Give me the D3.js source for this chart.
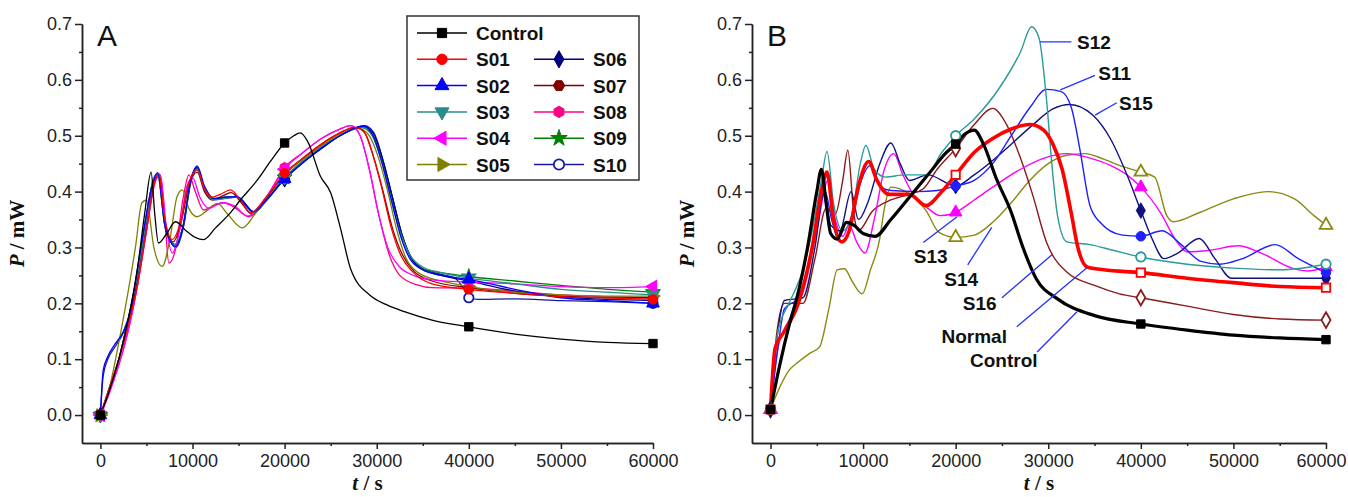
<!DOCTYPE html>
<html>
<head>
<meta charset="utf-8">
<script src="https://cdn.jsdelivr.net/npm/d3@7"></script>
<style>
	body { margin: 0; background: #fff; }
	svg { display: block; }
	.axis text { font-family: "Liberation Sans", Arial, sans-serif; font-size: 18px; fill: #222; }
	.axis path, .axis line { stroke: #222; stroke-width: 1.5; }
	.title { font-family: "Liberation Serif", "Times New Roman", serif; font-size: 21px; font-weight: bold; fill: #111; }
	.panel_label { font-family: "Liberation Sans", Arial, sans-serif; font-size: 30px; fill: #111; }
	.leg_text, .note { font-family: "Liberation Sans", Arial, sans-serif; font-size: 19px; font-weight: bold; fill: #111; }
</style>
</head>
<body>
<div id="chart"></div>
<script>

// ticks
var t_ticks= [0, 10000, 20000, 30000, 40000, 50000, 60000];
var t_minor= [5000, 15000, 25000, 35000, 45000, 55000];
var p_ticks= [0.0, 0.1, 0.2, 0.3, 0.4, 0.5, 0.6, 0.7];
var p_minor= [0.05, 0.15, 0.25, 0.35, 0.45, 0.55, 0.65];
var marker_times= [0, 20000, 40000, 60000];

// panel A  [t (s), P (mW)]
var control_a= [[0,0],[1000,0.045],[2000,0.1],[3000,0.17],[4000,0.26],[4800,0.36],[5500,0.435],[5900,0.36],[6300,0.308],[7200,0.325],[8150,0.346],[9300,0.33],[10300,0.318],[11200,0.314],[12500,0.335],[14000,0.36],[15200,0.385],[17000,0.42],[18500,0.455],[20000,0.487],[21000,0.5],[21700,0.505],[22500,0.49],[23900,0.427],[25000,0.398],[26100,0.332],[27200,0.26],[29300,0.214],[31000,0.198],[33000,0.185],[36000,0.17],[40000,0.158],[45000,0.145],[50000,0.136],[55000,0.13],[60000,0.128]];
var s01_a= [[0,0],[1000,0.05],[2000,0.1],[3000,0.16],[4000,0.23],[5000,0.33],[5800,0.41],[6340,0.433],[6900,0.36],[7790,0.314],[8600,0.34],[9500,0.41],[10500,0.439],[11300,0.405],[12140,0.39],[13000,0.395],[14130,0.403],[15200,0.385],[16300,0.362],[18000,0.39],[20000,0.433],[22000,0.46],[24000,0.485],[26000,0.505],[27500,0.515],[28500,0.51],[29500,0.47],[30500,0.41],[31500,0.34],[32500,0.29],[34000,0.255],[36000,0.235],[40000,0.225],[45000,0.218],[50000,0.212],[55000,0.21],[60000,0.207]];
var s02_a= [[0,0],[300,0.08],[800,0.105],[1500,0.125],[2500,0.15],[3300,0.19],[4000,0.26],[4800,0.34],[5600,0.41],[6200,0.434],[7000,0.34],[8150,0.302],[9000,0.34],[9800,0.42],[10500,0.446],[11300,0.41],[12300,0.388],[13500,0.39],[14860,0.391],[15800,0.375],[16670,0.364],[18000,0.385],[20000,0.423],[22000,0.452],[24000,0.478],[26000,0.5],[28600,0.517],[29600,0.5],[30600,0.45],[31600,0.385],[32600,0.32],[33600,0.28],[35000,0.26],[37000,0.25],[40000,0.243],[45000,0.225],[50000,0.21],[55000,0.205],[60000,0.2]];
var s03_a= [[0,0],[1000,0.05],[2000,0.1],[3000,0.17],[4000,0.25],[5000,0.35],[5700,0.42],[6200,0.43],[7000,0.34],[8000,0.305],[9000,0.34],[9800,0.42],[10500,0.44],[11300,0.405],[12300,0.385],[13500,0.388],[14800,0.39],[16600,0.362],[18000,0.385],[20000,0.425],[22000,0.455],[24000,0.48],[26000,0.5],[28300,0.515],[29500,0.5],[30500,0.455],[31500,0.39],[32500,0.33],[33500,0.29],[35000,0.265],[37000,0.255],[40000,0.245],[45000,0.235],[50000,0.225],[55000,0.22],[60000,0.215]];
var s04_a= [[0,0],[1000,0.04],[2000,0.09],[3000,0.15],[4000,0.23],[5000,0.33],[5900,0.42],[6500,0.43],[7200,0.33],[7800,0.29],[8600,0.33],[9400,0.41],[10000,0.425],[10800,0.39],[11800,0.37],[13200,0.38],[14500,0.375],[16000,0.356],[18000,0.39],[20000,0.44],[22000,0.47],[24000,0.495],[26000,0.512],[27200,0.518],[28200,0.5],[29200,0.44],[30200,0.36],[31200,0.3],[32500,0.265],[34000,0.25],[36000,0.242],[40000,0.238],[45000,0.235],[50000,0.23],[55000,0.228],[60000,0.23]];
var s05_a= [[0,0],[1000,0.05],[2000,0.13],[3000,0.22],[3800,0.3],[4500,0.38],[5000,0.385],[5800,0.3],[6700,0.266],[7600,0.32],[8300,0.39],[8880,0.403],[9600,0.37],[10500,0.355],[11500,0.365],[12700,0.379],[13800,0.36],[15400,0.335],[16800,0.36],[18500,0.395],[20000,0.43],[22000,0.458],[24000,0.482],[26000,0.503],[28000,0.513],[29200,0.5],[30200,0.46],[31200,0.4],[32200,0.33],[33200,0.28],[34500,0.255],[37000,0.24],[40000,0.23],[45000,0.22],[50000,0.215],[55000,0.213],[60000,0.213]];
var s06_a= [[0,0],[1000,0.05],[2000,0.1],[3000,0.17],[4000,0.25],[5000,0.35],[5800,0.42],[6300,0.43],[7100,0.33],[8100,0.305],[9000,0.34],[9800,0.42],[10500,0.443],[11300,0.405],[12300,0.386],[13800,0.39],[14900,0.39],[16700,0.363],[18000,0.385],[20000,0.422],[22000,0.452],[24000,0.477],[26000,0.5],[28500,0.517],[29600,0.505],[30700,0.455],[31700,0.39],[32700,0.325],[33700,0.283],[35000,0.26],[37000,0.25],[40000,0.24],[45000,0.222],[50000,0.212],[55000,0.207],[60000,0.205]];
var s07_a= [[0,0],[1000,0.045],[2000,0.1],[3000,0.16],[4000,0.24],[5000,0.34],[5900,0.42],[6400,0.43],[7000,0.35],[7900,0.31],[8700,0.34],[9600,0.41],[10500,0.435],[11300,0.4],[12200,0.385],[13200,0.392],[14200,0.398],[15300,0.38],[16400,0.36],[18000,0.388],[20000,0.43],[22000,0.46],[24000,0.485],[26000,0.505],[27700,0.515],[28700,0.505],[29700,0.46],[30700,0.4],[31700,0.335],[32700,0.29],[34000,0.258],[36000,0.24],[40000,0.228],[45000,0.218],[50000,0.213],[55000,0.21],[60000,0.21]];
var s08_a= [[0,0],[1000,0.045],[2000,0.09],[3000,0.15],[4000,0.23],[5000,0.33],[6000,0.42],[6500,0.43],[7000,0.35],[7430,0.272],[8200,0.3],[9000,0.39],[9600,0.43],[10300,0.4],[11200,0.367],[12300,0.375],[13400,0.38],[14700,0.37],[16100,0.355],[18000,0.39],[20000,0.443],[22000,0.47],[24000,0.495],[26000,0.512],[27200,0.518],[28200,0.5],[29200,0.44],[30200,0.36],[31300,0.29],[32500,0.25],[34400,0.233],[36000,0.228],[40000,0.227],[45000,0.222],[50000,0.215],[55000,0.212],[60000,0.21]];
var s09_a= [[0,0],[1000,0.05],[2000,0.1],[3000,0.17],[4000,0.25],[5000,0.35],[5700,0.42],[6200,0.432],[7000,0.34],[8100,0.305],[9000,0.34],[9800,0.42],[10500,0.443],[11300,0.405],[12300,0.387],[13700,0.39],[14900,0.39],[16600,0.363],[18000,0.385],[20000,0.425],[22000,0.455],[24000,0.48],[26000,0.5],[28300,0.515],[29500,0.503],[30600,0.455],[31700,0.39],[32800,0.32],[33800,0.28],[35000,0.262],[37000,0.255],[40000,0.248],[45000,0.24],[50000,0.232],[55000,0.225],[60000,0.22]];
var s10_a= [[0,0],[300,0.07],[800,0.1],[1500,0.12],[2500,0.148],[3300,0.185],[4000,0.255],[4800,0.34],[5600,0.41],[6300,0.43],[7100,0.335],[8200,0.3],[9000,0.335],[9800,0.415],[10500,0.44],[11300,0.405],[12300,0.386],[13600,0.388],[14900,0.39],[16700,0.363],[18000,0.383],[20000,0.423],[22000,0.452],[24000,0.477],[26000,0.5],[28700,0.518],[29700,0.505],[30700,0.455],[31700,0.39],[32700,0.325],[33700,0.283],[35000,0.262],[37000,0.252],[38500,0.245],[39500,0.225],[40000,0.21],[41000,0.207],[45000,0.208],[50000,0.205],[55000,0.203],[60000,0.2]];

// panel B
var control_b= [[0,0.01],[1000,0.09],[2000,0.16],[3000,0.22],[4000,0.3],[5000,0.4],[5500,0.44],[6000,0.38],[6500,0.325],[7200,0.315],[8200,0.345],[9000,0.34],[10000,0.325],[11300,0.32],[13000,0.35],[15000,0.39],[17000,0.43],[19000,0.47],[20000,0.485],[21000,0.503],[22000,0.51],[23000,0.485],[24400,0.423],[26000,0.363],[27200,0.303],[28700,0.244],[31000,0.208],[35000,0.178],[40000,0.163],[45000,0.152],[50000,0.143],[55000,0.138],[60000,0.135]];
var normal_b= [[0,0.01],[500,0.12],[1500,0.15],[3000,0.2],[4500,0.3],[5500,0.4],[6100,0.435],[6800,0.35],[7700,0.31],[8500,0.33],[9500,0.41],[10600,0.454],[11500,0.42],[12800,0.395],[15000,0.395],[16800,0.375],[18500,0.4],[20000,0.43],[22000,0.47],[24000,0.495],[26000,0.512],[28000,0.52],[29500,0.51],[30500,0.485],[31500,0.44],[32500,0.36],[33200,0.3],[34200,0.265],[36000,0.26],[40000,0.255],[45000,0.245],[50000,0.237],[55000,0.23],[60000,0.228]];
var s11_b= [[0,0.01],[800,0.12],[1500,0.19],[3000,0.21],[4500,0.3],[5900,0.4],[6600,0.35],[7500,0.31],[8500,0.33],[9800,0.42],[10800,0.447],[11800,0.41],[13000,0.402],[16000,0.4],[18000,0.402],[20000,0.41],[22000,0.42],[24000,0.45],[26000,0.5],[28000,0.55],[29800,0.583],[31400,0.579],[32500,0.55],[33400,0.477],[34500,0.375],[35600,0.345],[38000,0.322],[40000,0.32],[42300,0.33],[44300,0.306],[46500,0.275],[48500,0.27],[51000,0.28],[54500,0.305],[57000,0.28],[60000,0.255]];
var s12_b= [[0,0.01],[800,0.15],[2000,0.2],[3500,0.26],[4500,0.33],[5500,0.42],[6100,0.472],[6800,0.38],[7800,0.33],[8800,0.36],[9700,0.45],[10300,0.483],[11200,0.44],[12400,0.426],[14500,0.43],[16800,0.43],[18500,0.47],[20000,0.5],[22000,0.53],[24700,0.585],[27000,0.65],[28200,0.695],[29000,0.675],[29800,0.567],[30400,0.447],[31000,0.357],[32000,0.31],[34500,0.305],[37000,0.295],[40000,0.283],[45000,0.27],[50000,0.263],[55000,0.26],[60000,0.27]];
var s13_b= [[0,0.01],[800,0.12],[2000,0.17],[3500,0.22],[5000,0.33],[6200,0.42],[7000,0.35],[7800,0.32],[8500,0.34],[9300,0.31],[10200,0.29],[11200,0.35],[12300,0.44],[13300,0.468],[14300,0.43],[15700,0.387],[17000,0.37],[18300,0.357],[20000,0.363],[22000,0.385],[24000,0.408],[27000,0.44],[29400,0.459],[32000,0.468],[34500,0.46],[36700,0.447],[38500,0.43],[40000,0.408],[42100,0.363],[43900,0.31],[45000,0.292],[47500,0.295],[50500,0.303],[53000,0.29],[56500,0.262],[58000,0.258],[60000,0.265]];
var s14_b= [[0,0.01],[1000,0.05],[2000,0.08],[3000,0.095],[4200,0.11],[5300,0.122],[6300,0.19],[7200,0.26],[8000,0.262],[8800,0.24],[9900,0.217],[10800,0.26],[11800,0.316],[12300,0.37],[13000,0.408],[15000,0.396],[16800,0.366],[18200,0.327],[20000,0.318],[22000,0.322],[24000,0.345],[26000,0.38],[28000,0.42],[30000,0.45],[32000,0.465],[34000,0.468],[36000,0.458],[38000,0.445],[40000,0.435],[41500,0.426],[42800,0.357],[43500,0.346],[46400,0.363],[50000,0.387],[53700,0.4],[56600,0.387],[58700,0.357],[60000,0.34]];
var s15_b= [[0,0.01],[800,0.15],[1500,0.205],[3500,0.21],[4800,0.3],[5800,0.4],[6500,0.34],[7500,0.33],[8700,0.4],[9500,0.35],[10500,0.38],[11800,0.45],[13000,0.487],[14000,0.45],[15000,0.42],[17000,0.43],[20000,0.41],[22000,0.43],[25000,0.47],[28300,0.519],[30500,0.548],[32300,0.556],[34800,0.537],[36700,0.495],[38500,0.43],[40000,0.366],[41200,0.316],[42500,0.28],[44000,0.29],[46300,0.316],[48000,0.28],[49800,0.245],[55000,0.245],[60000,0.245]];
var s16_b= [[0,0.01],[700,0.15],[1500,0.2],[3500,0.2],[4800,0.28],[6000,0.37],[7000,0.36],[7800,0.42],[8350,0.474],[9000,0.36],[9500,0.33],[11000,0.365],[13000,0.385],[15000,0.395],[16500,0.405],[18000,0.44],[20000,0.477],[22000,0.52],[24000,0.549],[25500,0.52],[27000,0.46],[28300,0.395],[29800,0.31],[32000,0.256],[35000,0.232],[37700,0.217],[40000,0.21],[45000,0.195],[50000,0.18],[55000,0.172],[60000,0.17]];

var names_a= ["Control", "S01", "S02", "S03", "S04", "S05", "S06", "S07", "S08", "S09", "S10"];
var values_a= [control_a, s01_a, s02_a, s03_a, s04_a, s05_a, s06_a, s07_a, s08_a, s09_a, s10_a];
var names_b= ["S14", "S16", "S13", "S15", "S11", "S12", "Normal", "Control"];
var values_b= [s14_b, s16_b, s13_b, s15_b, s11_b, s12_b, normal_b, control_b];

// B annotations, anchored in data units [text t, text p, line from t, p, line to t, p]
var notes_b= [
	["S12", 33100, 0.668, 29100, 0.668, 32500, 0.668],
	["S11", 35400, 0.612, 31300, 0.582, 35050, 0.608],
	["S15", 37650, 0.558, 35050, 0.537, 37400, 0.559],
	["S13", 17300, 0.284, 16500, 0.309, 20150, 0.355],
	["S14", 20600, 0.244, 21300, 0.269, 23900, 0.336],
	["S16", 22600, 0.201, 25000, 0.21, 30400, 0.287],
	["Normal", 22000, 0.141, 26600, 0.158, 34200, 0.264],
	["Control", 25200, 0.099, 28800, 0.113, 33100, 0.185]
];

var hexagon= {
	draw: function(ctx, size) {
		var r= Math.sqrt(size/ 2.598);
		for (var k= 0; k< 6; k++) {
			var a= Math.PI/ 3* k;
			if (k== 0) ctx.moveTo(r* Math.cos(a), r* Math.sin(a));
			else ctx.lineTo(r* Math.cos(a), r* Math.sin(a));
		}
		ctx.closePath();
	}
};

var style_a= {
	"Control": {color: "#000000", sym: d3.symbolSquare, rot: 0, open: false},
	"S01": {color: "#ff0000", sym: d3.symbolCircle, rot: 0, open: false},
	"S02": {color: "#0000ff", sym: d3.symbolTriangle, rot: 0, open: false},
	"S03": {color: "#2a8c8c", sym: d3.symbolTriangle, rot: 180, open: false},
	"S04": {color: "#ff00ff", sym: d3.symbolTriangle, rot: -90, open: false},
	"S05": {color: "#808000", sym: d3.symbolTriangle, rot: 90, open: false},
	"S06": {color: "#000080", sym: d3.symbolDiamond, rot: 0, open: false},
	"S07": {color: "#800000", sym: hexagon, rot: 0, open: false},
	"S08": {color: "#ff0080", sym: hexagon, rot: 90, open: false},
	"S09": {color: "#008000", sym: d3.symbolStar, rot: 0, open: false},
	"S10": {color: "#1a1aa0", sym: d3.symbolCircle, rot: 0, open: true}
};

var style_b= {
	"Control": {color: "#000000", sym: d3.symbolSquare, rot: 0, open: false, w: 3.2},
	"Normal": {color: "#ff0000", sym: d3.symbolSquare, rot: 0, open: true, w: 3.6},
	"S11": {color: "#1f1fff", sym: d3.symbolCircle, rot: 0, open: false, w: 1.4},
	"S12": {color: "#2a9a9a", sym: d3.symbolCircle, rot: 0, open: true, w: 1.4},
	"S13": {color: "#ff00ff", sym: d3.symbolTriangle, rot: 0, open: false, w: 1.4},
	"S14": {color: "#8a8a10", sym: d3.symbolTriangle, rot: 0, open: true, w: 1.4},
	"S15": {color: "#101080", sym: d3.symbolDiamond, rot: 0, open: false, w: 1.4},
	"S16": {color: "#8b1a1a", sym: d3.symbolDiamond, rot: 0, open: true, w: 1.4}
};


var svg= d3.select("#chart")
	.append("svg")
	.attr("width", 1348)
	.attr("height", 497);


function draw_marker(g, st, cx, cy, size) {
	g.append("path")
		.attr("d", d3.symbol().type(st.sym).size(size)())
		.attr("transform", "translate(" + cx + "," + cy + ") rotate(" + st.rot + ")")
		.attr("fill", st.open ? "#fff" : st.color)
		.attr("stroke", st.color)
		.attr("stroke-width", st.open ? 1.8 : 1);
}


function draw_panel(x0, x1, title_x, letter, names, values, styles, line_w) {

	var x= d3.scaleLinear().domain([-2000, 60000]).range([x0, x1]);
	var y= d3.scaleLinear().domain([-0.05, 0.7]).range([443, 24]);

	var g= svg.append("g");

	// axes
	g.append("g").attr("class", "axis")
		.attr("transform", "translate(" + x0 + ",0)")
		.call(d3.axisLeft(y).tickValues(p_ticks).tickSize(7).tickSizeOuter(0).tickPadding(3).tickFormat(d3.format(".1f")));
	g.append("g").attr("class", "axis")
		.attr("transform", "translate(" + x0 + ",0)")
		.call(d3.axisLeft(y).tickValues(p_minor).tickSize(3).tickSizeOuter(0).tickFormat(""));
	var xa= g.append("g").attr("class", "axis")
		.attr("transform", "translate(0,443)")
		.call(d3.axisBottom(x).tickValues(t_ticks).tickSize(6).tickSizeOuter(0).tickPadding(5).tickFormat(d3.format("d")));
	g.append("g").attr("class", "axis")
		.attr("transform", "translate(0,443)")
		.call(d3.axisBottom(x).tickValues(t_minor).tickSize(3).tickSizeOuter(0).tickFormat(""));

	// keep the last label inside the page on the right panel
	if (x1 > 1300) {
		xa.selectAll(".tick text")
			.filter(function(d) { return d== 60000; })
			.attr("text-anchor", "end")
			.attr("dx", 1346 - x1);
	}

	// axis titles
	var yt= g.append("text").attr("class", "title")
		.attr("transform", "translate(" + title_x + "," + (y(0.325)) + ") rotate(-90)")
		.attr("text-anchor", "middle");
	yt.append("tspan").style("font-style", "italic").text("P");
	yt.append("tspan").text(" / mW");

	var xt= g.append("text").attr("class", "title")
		.attr("x", (x0 + x1)/ 2)
		.attr("y", 490)
		.attr("text-anchor", "middle");
	xt.append("tspan").style("font-style", "italic").text("t");
	xt.append("tspan").text(" / s");

	g.append("text").attr("class", "panel_label")
		.attr("x", x0 + 15)
		.attr("y", 46)
		.text(letter);

	var line= d3.line()
		.x(function(d) { return x(d[0]); })
		.y(function(d) { return y(d[1]); })
		.curve(d3.curveMonotoneX);

	for (var i= 0; i< names.length; i++) {
		var st= styles[names[i]];
		g.append("path")
			.datum(values[i])
			.attr("d", line)
			.attr("fill", "none")
			.attr("stroke", st.color)
			.attr("stroke-width", st.w || line_w)
			.attr("stroke-linejoin", "round");
	}

	for (var i= 0; i< names.length; i++) {
		var st= styles[names[i]];
		values[i].forEach(function(d) {
			if (marker_times.indexOf(d[0])>= 0) draw_marker(g, st, x(d[0]), y(d[1]), 70);
		});
	}

	return {x: x, y: y, g: g};
}


var pa= draw_panel(82, 653, 24, "A", names_a.slice().reverse(), values_a.slice().reverse(), style_a, 1.3);
var pb= draw_panel(752, 1326, 694, "B", names_b, values_b, style_b, 1.4);


// legend A
var leg= svg.append("g");
leg.append("rect")
	.attr("x", 407).attr("y", 16)
	.attr("width", 232).attr("height", 164)
	.attr("fill", "#fff")
	.attr("stroke", "#333")
	.attr("stroke-width", 1.5);

for (var i= 0; i< names_a.length; i++) {
	var col= (i> 5) ? 1 : 0;
	var row= (i> 5) ? i- 5 : i;
	var lx= col ? 534 : 417;
	var ly= 33 + row* 26.3;
	var st= style_a[names_a[i]];
	leg.append("line")
		.attr("x1", lx).attr("x2", lx + 50)
		.attr("y1", ly).attr("y2", ly)
		.attr("stroke", st.color)
		.attr("stroke-width", 1.5);
	draw_marker(leg, st, lx + 25, ly, 85);
	leg.append("text").attr("class", "leg_text")
		.attr("x", lx + 59)
		.attr("y", ly + 7)
		.text(names_a[i]);
}


// B annotations
notes_b.forEach(function(n) {
	pb.g.append("line")
		.attr("x1", pb.x(n[3])).attr("y1", pb.y(n[4]))
		.attr("x2", pb.x(n[5])).attr("y2", pb.y(n[6]))
		.attr("stroke", "#2233ff")
		.attr("stroke-width", 1.3);
	var left_anchor= (n[0]== "S12" || n[0]== "S11" || n[0]== "S15");
	pb.g.append("text").attr("class", "note")
		.attr("x", pb.x(n[1]))
		.attr("y", pb.y(n[2]) + 7)
		.attr("text-anchor", left_anchor ? "start" : "middle")
		.text(n[0]);
});

</script>
</body>
</html>
